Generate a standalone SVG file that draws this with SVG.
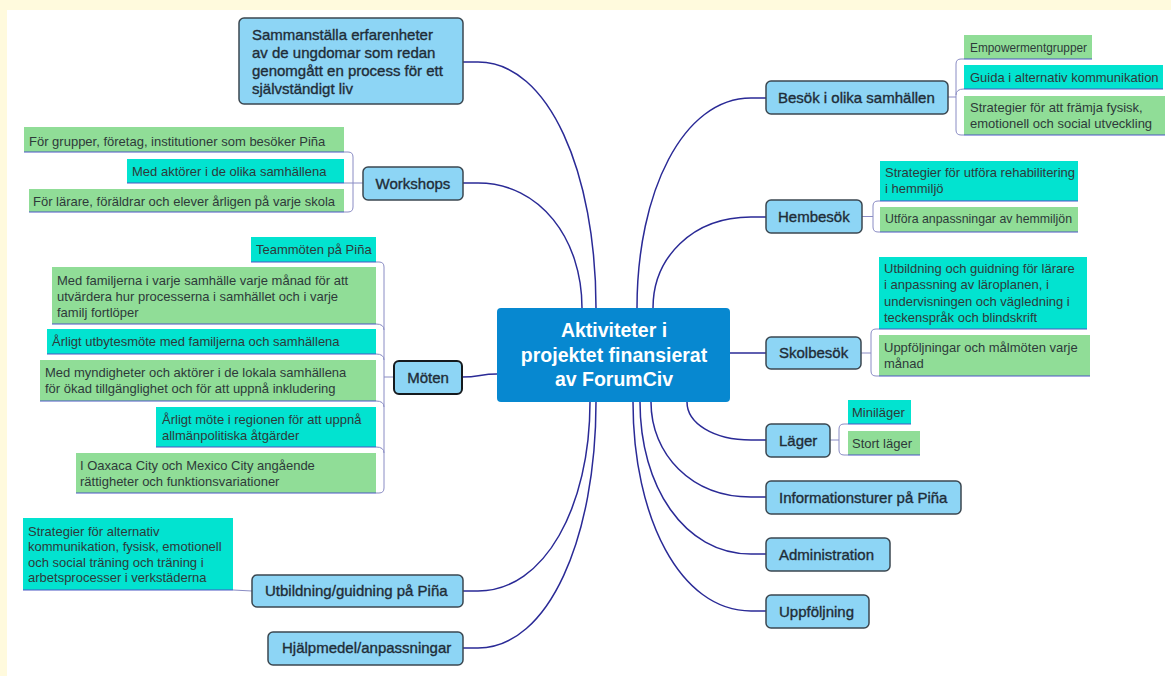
<svg xmlns="http://www.w3.org/2000/svg" width="1171" height="676" viewBox="0 0 1171 676">
<style>
.bg{fill:#ffffff}
.cream{fill:#fffadd}
.topic rect{fill:#8dd5f5;stroke:#3b4750;stroke-width:1.5}
.tt{font-family:"Liberation Sans",Arial,sans-serif;font-size:15px;fill:#1f2d38;stroke:#1f2d38;stroke-width:0.35}
.st{font-family:"Liberation Sans",Arial,sans-serif;font-size:13px;fill:#2e3a3a}
.g{fill:#90dd97}
.c{fill:#02e3d0}
.ul{stroke:#4a56c4;stroke-width:1.2;fill:none}
.br{fill:none;stroke:#8a8cc4;stroke-width:1}
.conn{fill:none;stroke:#2a2a96;stroke-width:1.5}
.central text{font-family:"Liberation Sans",Arial,sans-serif;font-size:19.5px;font-weight:bold;fill:#ffffff}
</style>
<rect class="bg" x="0" y="0" width="1171" height="676"/>
<rect class="cream" x="0" y="0" width="1171" height="10"/>
<rect class="cream" x="0" y="0" width="7" height="676"/>

<g id="connectors">
  <path class="conn" d="M596,308 C596,173 549,62 478,62 L463,62"/>
  <path class="conn" d="M582,308 C582,239 540,183 478,183 L463,183"/>
  <path class="conn" d="M497,374 C480,374 480,377 462,377"/>
  <path class="conn" d="M590,402 C590,506 545,591 478,591 L463,591"/>
  <path class="conn" d="M596,402 C596,537 549,648 478,648 L463,648"/>
  <path class="conn" d="M637,308 C637,192 683,98 751,98 L766,98"/>
  <path class="conn" d="M653,308 C653,258 692,217 751,217 L766,217"/>
  <path class="conn" d="M730,353 L766,353"/>
  <path class="conn" d="M687,402 C687,423 713,440 751,440 L766,440"/>
  <path class="conn" d="M651,402 C651,454 691,497 751,497 L766,497"/>
  <path class="conn" d="M640,402 C640,486 684,554 751,554 L766,554"/>
  <path class="conn" d="M633,402 C633,517 680,611 751,611 L766,611"/>
  <path class="br" d="M344,152 H348 Q353,152 353,157 V207 Q353,212 348,212 H344 M344,183 H363"/>
  <path class="br" d="M376,262 H379 Q384,262 384,267 V488 Q384,493 379,493 H376 M376,324 Q384,324 384,330 M376,354 Q384,354 384,360 M376,401 Q384,401 384,407 M376,447 Q384,447 384,453 M384,377 H394"/>
  <path class="br" d="M233,590 L252,591"/>
  <path class="br" d="M964,59 H961 Q956,59 956,64 V130 Q956,135 961,135 H964 M964,89 Q956,89 956,95 M948,97 H956"/>
  <path class="br" d="M880,201 H878 Q873,201 873,206 V227 Q873,232 878,232 H880 M862,216.5 H873"/>
  <path class="br" d="M879,329 H876 Q871,329 871,334 V371 Q871,376 876,376 H879 M861,353 H871"/>
  <path class="br" d="M848,424 H844 Q839,424 839,429 V450 Q839,455 844,455 H848 M830,440 H839"/>
</g>

<g id="central" class="central">
  <rect x="497" y="308" width="233" height="94" rx="4" fill="#0788d0"/>
  <text x="614" y="337" text-anchor="middle">Aktiviteter i</text>
  <text x="614" y="362" text-anchor="middle">projektet finansierat</text>
  <text x="614" y="386" text-anchor="middle">av ForumCiv</text>
</g>

<g id="sammanstalla" class="topic">
  <rect x="239" y="18" width="224" height="86" rx="5"/>
  <text class="tt" x="252" y="40">Sammanställa erfarenheter</text>
  <text class="tt" x="252" y="58">av de ungdomar som redan</text>
  <text class="tt" x="252" y="76">genomgått en process för ett</text>
  <text class="tt" x="252" y="94">självständigt liv</text>
</g>

<g id="workshops" class="topic">
  <rect x="363" y="167" width="100" height="33" rx="5"/>
  <text class="tt" x="413" y="188.5" text-anchor="middle">Workshops</text>
</g>
<g id="ws1"><rect class="g" x="24" y="127" width="320" height="25"/><line class="ul" x1="24" y1="152" x2="344" y2="152"/><text class="st" x="29" y="145.5">För grupper, företag, institutioner som besöker Piña</text></g>
<g id="ws2"><rect class="c" x="127" y="159" width="217" height="24"/><line class="ul" x1="127" y1="183" x2="344" y2="183"/><text class="st" x="132" y="175.5">Med aktörer i de olika samhällena</text></g>
<g id="ws3"><rect class="g" x="29" y="189" width="315" height="23"/><line class="ul" x1="29" y1="212" x2="344" y2="212"/><text class="st" x="33" y="205.5">För lärare, föräldrar och elever årligen på varje skola</text></g>

<g id="moten" class="topic">
  <rect x="394" y="361" width="68" height="33" rx="5" style="stroke:#151a1e;stroke-width:2"/>
  <text class="tt" x="428" y="382.5" text-anchor="middle">Möten</text>
</g>
<g id="m1"><rect class="c" x="251" y="237" width="125" height="25"/><line class="ul" x1="251" y1="262" x2="376" y2="262"/><text class="st" x="256" y="253.5">Teammöten på Piña</text></g>
<g id="m2"><rect class="g" x="52" y="267" width="324" height="57"/><line class="ul" x1="52" y1="324" x2="376" y2="324"/>
  <text class="st" x="57" y="284.5">Med familjerna i varje samhälle varje månad för att</text>
  <text class="st" x="57" y="300.5">utvärdera hur processerna i samhället och i varje</text>
  <text class="st" x="57" y="316.5">familj fortlöper</text></g>
<g id="m3"><rect class="c" x="47" y="329" width="329" height="25"/><line class="ul" x1="47" y1="354" x2="376" y2="354"/><text class="st" x="52" y="346">Årligt utbytesmöte med familjerna och samhällena</text></g>
<g id="m4"><rect class="g" x="40" y="360" width="336" height="41"/><line class="ul" x1="40" y1="401" x2="376" y2="401"/>
  <text class="st" x="45" y="376.5">Med myndigheter och aktörer i de lokala samhällena</text>
  <text class="st" x="45" y="392.5">för ökad tillgänglighet och för att uppnå inkludering</text></g>
<g id="m5"><rect class="c" x="156" y="407" width="220" height="40"/><line class="ul" x1="156" y1="447" x2="376" y2="447"/>
  <text class="st" x="162" y="423.5">Årligt möte i regionen för att uppnå</text>
  <text class="st" x="162" y="439.5">allmänpolitiska åtgärder</text></g>
<g id="m6"><rect class="g" x="76" y="453" width="300" height="40"/><line class="ul" x1="76" y1="493" x2="376" y2="493"/>
  <text class="st" x="80" y="469.5">I Oaxaca City och Mexico City angående</text>
  <text class="st" x="80" y="485.5">rättigheter och funktionsvariationer</text></g>

<g id="utbildning" class="topic">
  <rect x="252" y="575" width="211" height="32" rx="5"/>
  <text class="tt" x="265" y="596">Utbildning/guidning på Piña</text>
</g>
<g id="u1"><rect class="c" x="23" y="518" width="210" height="72"/><line class="ul" x1="23" y1="590" x2="233" y2="590"/>
  <text class="st" x="28" y="535.5">Strategier för alternativ</text>
  <text class="st" x="28" y="550.5">kommunikation, fysisk, emotionell</text>
  <text class="st" x="28" y="566.5">och social träning och träning i</text>
  <text class="st" x="28" y="581.5">arbetsprocesser i verkstäderna</text></g>

<g id="hjalpmedel" class="topic">
  <rect x="268" y="632" width="195" height="33" rx="5"/>
  <text class="tt" x="282" y="653">Hjälpmedel/anpassningar</text>
</g>

<g id="besok" class="topic">
  <rect x="766" y="81" width="182" height="33" rx="5"/>
  <text class="tt" x="778" y="103">Besök i olika samhällen</text>
</g>
<g id="b1"><rect class="g" x="964" y="35" width="128" height="24"/><line class="ul" x1="964" y1="59" x2="1092" y2="59"/><text class="st" x="970" y="51.5" textLength="117" lengthAdjust="spacingAndGlyphs">Empowermentgrupper</text></g>
<g id="b2"><rect class="c" x="964" y="65" width="199" height="24"/><line class="ul" x1="964" y1="89" x2="1163" y2="89"/><text class="st" x="970" y="81.5">Guida i alternativ kommunikation</text></g>
<g id="b3"><rect class="g" x="964" y="96" width="201" height="39"/><line class="ul" x1="964" y1="135" x2="1165" y2="135"/>
  <text class="st" x="970" y="112">Strategier för att främja fysisk,</text>
  <text class="st" x="970" y="128">emotionell och social utveckling</text></g>

<g id="hembesok" class="topic">
  <rect x="766" y="200" width="96" height="33" rx="5"/>
  <text class="tt" x="778" y="222">Hembesök</text>
</g>
<g id="h1"><rect class="c" x="880" y="161" width="198" height="40"/><line class="ul" x1="880" y1="201" x2="1078" y2="201"/>
  <text class="st" x="885" y="177">Strategier för utföra rehabilitering</text>
  <text class="st" x="885" y="193">i hemmiljö</text></g>
<g id="h2"><rect class="g" x="880" y="207" width="198" height="25"/><line class="ul" x1="880" y1="232" x2="1078" y2="232"/><text class="st" x="885" y="223" textLength="187" lengthAdjust="spacingAndGlyphs">Utföra anpassningar av hemmiljön</text></g>

<g id="skolbesok" class="topic">
  <rect x="766" y="337" width="95" height="32" rx="5"/>
  <text class="tt" x="779" y="358">Skolbesök</text>
</g>
<g id="s1"><rect class="c" x="879" y="257" width="208" height="72"/><line class="ul" x1="879" y1="329" x2="1087" y2="329"/>
  <text class="st" x="884" y="272.5">Utbildning och guidning för lärare</text>
  <text class="st" x="884" y="289">i anpassning av läroplanen, i</text>
  <text class="st" x="884" y="305.5">undervisningen och vägledning i</text>
  <text class="st" x="884" y="322">teckenspråk och blindskrift</text></g>
<g id="s2"><rect class="g" x="879" y="335" width="211" height="41"/><line class="ul" x1="879" y1="376" x2="1090" y2="376"/>
  <text class="st" x="884" y="351.5">Uppföljningar och målmöten varje</text>
  <text class="st" x="884" y="367.5">månad</text></g>

<g id="lager" class="topic">
  <rect x="766" y="424" width="64" height="33" rx="5"/>
  <text class="tt" x="779" y="445.5">Läger</text>
</g>
<g id="l1"><rect class="c" x="848" y="400" width="63" height="24"/><line class="ul" x1="848" y1="424" x2="911" y2="424"/><text class="st" x="852" y="417">Miniläger</text></g>
<g id="l2"><rect class="g" x="848" y="431" width="72" height="24"/><line class="ul" x1="848" y1="455" x2="920" y2="455"/><text class="st" x="852" y="447.5">Stort läger</text></g>

<g id="informationsturer" class="topic">
  <rect x="766" y="481" width="195" height="33" rx="5"/>
  <text class="tt" x="779" y="502.5">Informationsturer på Piña</text>
</g>
<g id="administration" class="topic">
  <rect x="766" y="538" width="124" height="33" rx="5"/>
  <text class="tt" x="779" y="559.5">Administration</text>
</g>
<g id="uppfoljning" class="topic">
  <rect x="766" y="595" width="103" height="33" rx="5"/>
  <text class="tt" x="779" y="616.5">Uppföljning</text>
</g>
</svg>
